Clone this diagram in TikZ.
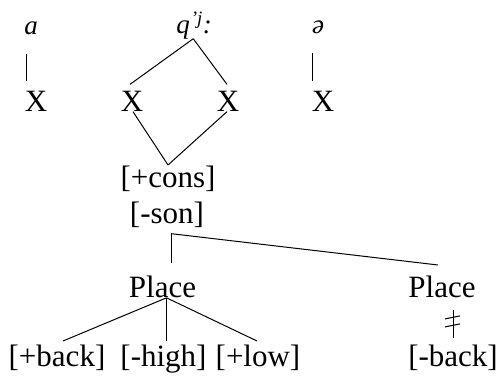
\documentclass[tikz,border=0pt]{standalone}
\usepackage{fontspec}
\setmainfont{Liberation Serif}
\usetikzlibrary{positioning,calc}

\begin{document}
\begin{tikzpicture}[x=1pt, y=-1pt, font=\fontsize{31}{36}\selectfont,
    inner sep=0pt, line width=1pt,
    seg/.style={font=\fontsize{27}{32}\selectfont\itshape}]
    \useasboundingbox (0,0) rectangle (500,378);
    % segments and skeleton
    \node[seg] (a) at (31,28) {a};
    \node[seg] (q) at (183,30) {q};
    \node[seg, anchor=base west] (qj) at (q.base east) {\textsuperscript{’j}:};
    \node[seg] (schwa) at (318,27) {ə};
    \node (x1) at (36,101) {X};
    \node (x2) at (132,101) {X};
    \node (x3) at (228,101) {X};
    \node (x4) at (323,101) {X};
    \coordinate (t1) at ([xshift=2pt]x1.north west);
    \coordinate (t4) at ([xshift=1.5pt]x4.north west);
    \draw[shorten <=19pt, shorten >=9pt] (a.south -| t1) -- (t1);
    \draw[shorten <=19pt, shorten >=9pt] (schwa.south -| t4) -- (t4);
    \draw ([xshift=3pt,yshift=1pt]q.south east) -- ([xshift=-2pt,yshift=6pt]x2.north);
    \draw ([xshift=3pt,yshift=1pt]q.south east) -- ([xshift=-1pt,yshift=6pt]x3.north);
    % root node
    \node[anchor=base] (cons) at (168,187) {[+cons]};
    \node[anchor=base] (son) at (167,223) {[-son]};
    \draw ([xshift=1pt]x2.south) -- (cons.north);
    \draw ([xshift=-1pt]x3.south) -- (cons.north);
    \coordinate (br) at ([xshift=4pt,yshift=-6pt]son.south);
    % place nodes
    \node[anchor=base] (place1) at (162.5,297) {Place};
    \node[anchor=base] (place2) at (442,297) {Place};
    \draw[shorten >=12pt] (br) -- (br |- place1.north);
    \draw (br) -- ([xshift=-4pt,yshift=10pt]place2.north);
    % features
    \node[anchor=base] (back) at (57,366) {[+back]};
    \node[anchor=base] (high) at (163.5,366) {[-high]};
    \node[anchor=base] (low) at (258,366) {[+low]};
    \node[anchor=base] (back2) at (453,366) {[-back]};
    \coordinate (pl) at ([xshift=4pt]place1.south);
    \draw (pl) -- ([xshift=6pt,yshift=3pt]back.north);
    \draw[shorten >=3pt] (pl) -- (pl |- high.north);
    \draw (pl) -- ([xshift=-1pt,yshift=3pt]low.north);
    % delinking
    \draw[shorten <=12pt, shorten >=6pt] (place2.south -| back2.north) -- (back2.north);
    \coordinate (dl) at ($(place2.south -| back2.north)!.5!(back2.north)$);
    \draw ([shift={(-8,-2)}]dl) -- ++(15,-3);
    \draw ([shift={(-8,6)}]dl) -- ++(15,-3);
\end{tikzpicture}
\end{document}
